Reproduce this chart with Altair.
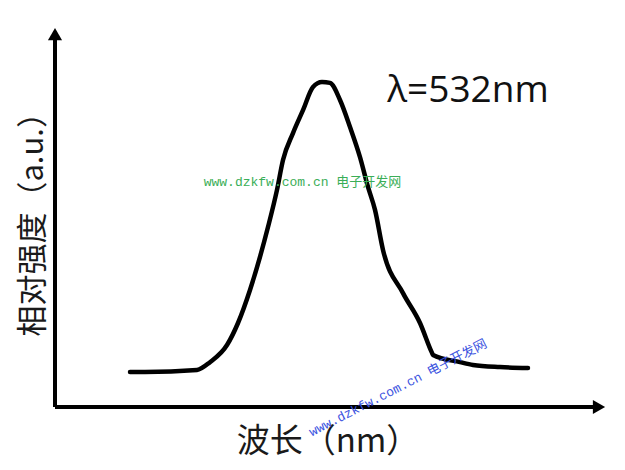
import altair as alt
import pandas as pd

# Spectrum (wavelength in nm, relative intensity, peak = 1)
wavelength = [436, 443.5, 469.5, 476, 484.5, 490, 496, 501, 505, 509.5, 512.5,
              517.5, 522.5, 527.5, 532, 536, 541, 546, 551, 555, 558.5, 562.5,
              572.5, 581, 587, 587.5, 601, 607.5, 621, 635]
intensity = [0.0, 0.0, 0.007, 0.034, 0.093, 0.169, 0.283, 0.397, 0.5, 0.628, 0.731,
             0.824, 0.903, 0.983, 1.0, 0.997, 0.938, 0.845, 0.741, 0.638, 0.559, 0.421,
             0.272, 0.169, 0.066, 0.059, 0.034, 0.024, 0.017, 0.014]

x_label = "波长（nm）"
y_label = "相对强度（a.u.）"
peak_label = "λ=532nm"
watermark = "www.dzkfw.com.cn 电子开发网"

X_DOM = [375, 679.5]
Y_DOM = [-0.3103, 1.2552]
AX_X0, AX_X1 = 398.5, 677
AX_Y0, AX_Y1 = -0.1207, 1.19

xs = alt.Scale(domain=X_DOM, nice=False, zero=False)
ys = alt.Scale(domain=Y_DOM, nice=False, zero=False)

curve_df = pd.DataFrame({"w": wavelength, "i": intensity, "o": range(len(wavelength))})

base_x = alt.X("w:Q", scale=xs, axis=None)
base_y = alt.Y("i:Q", scale=ys, axis=None)

curve = alt.Chart(curve_df).mark_line(
    color="#000000", strokeWidth=4.5, interpolate="monotone", strokeCap="round", strokeJoin="round"
).encode(x=base_x, y=base_y, order="o:Q")

axes_df = pd.DataFrame({
    "w": [AX_X0, AX_X0], "i": [AX_Y0, AX_Y0],
    "w2": [AX_X1 - 6, AX_X0], "i2": [AX_Y0, AX_Y1 - 0.04],
})
axes = alt.Chart(axes_df).mark_rule(color="#000000", strokeWidth=4).encode(
    x=base_x, y=base_y, x2="w2:Q", y2="i2:Q"
)

arrow_df = pd.DataFrame({
    "w": [AX_X1 - 6.5, AX_X0], "i": [AX_Y0, AX_Y1 - 0.025],
    "s": ["triangle-right", "triangle-up"],
})
arrows = alt.Chart(arrow_df).mark_point(filled=True, color="#000000", opacity=1, size=200).encode(
    x=base_x, y=base_y, shape=alt.Shape("s:N", scale=None, legend=None)
)

def label(text, w, i, size, angle=0, color="#1a1a1a", font="Noto Sans CJK SC", dx=0, dy=0, **kw):
    df = pd.DataFrame({"w": [w], "i": [i], "t": [text]})
    return alt.Chart(df).mark_text(
        fontSize=size, angle=angle, color=color, font=font, align="center", baseline="middle",
        dx=dx, dy=dy, **kw
    ).encode(x=base_x, y=base_y, text="t:N")

ylab = label(y_label, 388, 0.535, 31, angle=270)
xlab = label(x_label, 535, -0.243, 33)
peak = label(peak_label, 605, 0.97, 37, font="Open Sans", color="#111111")

WM_FONT = "Liberation Mono, Noto Sans CJK SC"
wm1 = label(watermark, 522.25, 0.655, 13, color="#3aae57", font=WM_FONT)
wm2 = label(watermark, 570, -0.055, 13, angle=333, color="#3a52e0", font=WM_FONT)

chart = alt.layer(
    axes, arrows, curve, ylab, xlab, peak, wm1, wm2
).properties(
    width=609, height=454, padding=0, autosize=alt.AutoSizeParams(type="none"),
    background="#ffffff"
).configure_view(stroke=None)

chart.save("out.html", embed_options={"renderer": "svg", "actions": False})
